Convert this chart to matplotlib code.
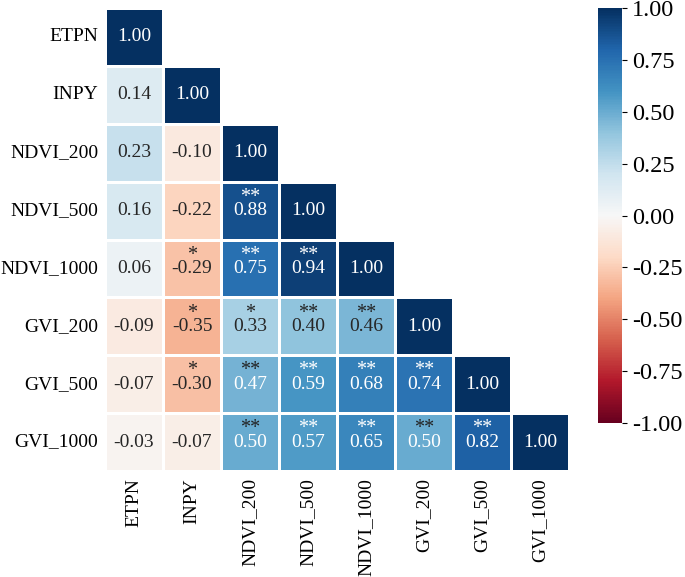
import numpy as np
import matplotlib
matplotlib.use('Agg')
import matplotlib.pyplot as plt
import seaborn as sns

plt.rcParams['font.family'] = ['Liberation Serif', 'DejaVu Serif']

names = ['ETPN', 'INPY', 'NDVI_200', 'NDVI_500', 'NDVI_1000',
         'GVI_200', 'GVI_500', 'GVI_1000']

# lower triangle of the correlation matrix, row by row
rows = [
    [1.00],
    [0.14, 1.00],
    [0.23, -0.10, 1.00],
    [0.16, -0.22, 0.88, 1.00],
    [0.06, -0.29, 0.75, 0.94, 1.00],
    [-0.09, -0.35, 0.33, 0.40, 0.46, 1.00],
    [-0.07, -0.30, 0.47, 0.59, 0.68, 0.74, 1.00],
    [-0.03, -0.07, 0.50, 0.57, 0.65, 0.50, 0.82, 1.00],
]

# significance marks, same layout
stars = [
    [''],
    ['', ''],
    ['', '', ''],
    ['', '', '**', ''],
    ['', '*', '**', '**', ''],
    ['', '*', '*', '**', '**', ''],
    ['', '*', '**', '**', '**', '**', ''],
    ['', '', '**', '**', '**', '**', '**', ''],
]

n = len(names)
corr = np.zeros((n, n))
for i, r in enumerate(rows):
    for j, v in enumerate(r):
        corr[i, j] = v
        corr[j, i] = v
mask = np.triu(np.ones((n, n), dtype=bool), k=1)

fig = plt.figure(figsize=(6.85, 5.77), dpi=100)
ax = fig.add_axes([0.1533, 0.1837, 0.6774, 0.8024])
cax = fig.add_axes([0.873, 0.2669, 0.035, 0.7192])

sns.heatmap(corr, mask=mask, cmap='RdBu', vmin=-1, vmax=1, center=0,
            annot=True, fmt='.2f', annot_kws={'size': 14},
            linewidths=1, linecolor='white', square=False,
            xticklabels=names, yticklabels=names,
            ax=ax, cbar_ax=cax)

# asterisks sit above the numbers
for i, r in enumerate(stars):
    for j, s in enumerate(r):
        if s:
            c = 'white' if rows[i][j] > 0.5 else '#222222'
            ax.text(j + 0.5, i + 0.27, s, ha='center', va='center',
                    fontsize=14.5, color=c)

ax.tick_params(axis='both', length=0, labelsize=14, pad=5)
plt.setp(ax.get_xticklabels(), rotation=90)
plt.setp(ax.get_yticklabels(), rotation=0)

cax.tick_params(labelsize=17.5)
cax.set_yticks([-1, -0.75, -0.5, -0.25, 0, 0.25, 0.5, 0.75, 1])
cax.set_yticklabels(['{:.2f}'.format(t) for t in cax.get_yticks()])

fig.savefig('out.png', dpi=100)
